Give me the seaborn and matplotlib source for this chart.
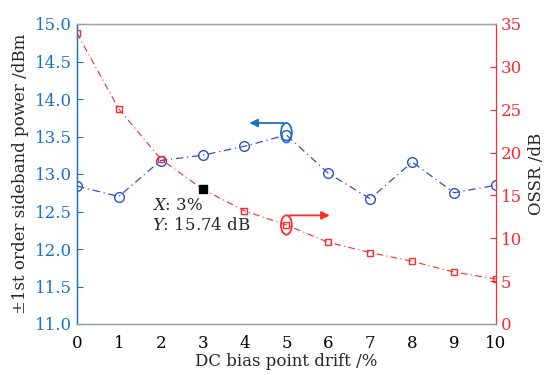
import matplotlib
matplotlib.use("Agg")
import matplotlib.pyplot as plt
from matplotlib.patches import Ellipse
import seaborn as sns
import pandas as pd

drift = [0, 1, 2, 3, 4, 5, 6, 7, 8, 9, 10]
sideband_power = [12.84, 12.70, 13.18, 13.25, 13.37, 13.52, 13.01, 12.67, 13.16, 12.75, 12.85]
ossr = [33.95, 25.1, 19.25, 15.74, 13.2, 11.55, 9.53, 8.33, 7.31, 6.06, 5.25]
tip_x, tip_y = 3, 15.74
x_ticks = list(range(0, 11))
left_ticks = [11.0, 11.5, 12.0, 12.5, 13.0, 13.5, 14.0, 14.5, 15.0]
right_ticks = [0, 5, 10, 15, 20, 25, 30, 35]

sns.set_style("white")
plt.rcParams['font.family'] = ['DejaVu Serif']
plt.rcParams['mathtext.fontset'] = 'dejavuserif'

BLUE_T = "#1a72c6"
BLUE_L = "#3050c8"
RED = "#ff2a2a"
GRAY = "#9aa0a8"

df = pd.DataFrame({"drift": drift, "power": sideband_power, "ossr": ossr})

fig, ax = plt.subplots(figsize=(5.45, 3.75), dpi=100)
fig.subplots_adjust(left=0.141, right=0.910, top=0.936, bottom=0.136)
ax2 = ax.twinx()

sns.lineplot(data=df, x="drift", y="power", ax=ax, color=BLUE_L, lw=0.9,
             linestyle=(0, (6, 3, 1, 3)), marker="o", markersize=7,
             markerfacecolor="none", markeredgecolor=BLUE_L, markeredgewidth=1.0)
sns.lineplot(data=df, x="drift", y="ossr", ax=ax2, color=RED, lw=0.8,
             linestyle=(0, (6, 3, 1, 3)), marker="s", markersize=5,
             markerfacecolor="none", markeredgecolor=RED, markeredgewidth=1.0)
ax2.plot([tip_x], [tip_y], marker="s", color="black", markersize=6, ls="none", zorder=5)

ax.set_xlim(0, 10)
ax.set_ylim(11, 15)
ax2.set_ylim(0, 35)
ax.set_xticks(x_ticks)
ax.set_yticks(left_ticks)
ax.set_yticklabels([f"{v:.1f}" for v in left_ticks])
ax2.set_yticks(right_ticks)

fs = 12
ax.tick_params(axis="x", direction="in", length=4, labelsize=fs, colors="black", color=GRAY, pad=8)
ax.tick_params(axis="y", direction="in", length=4, labelsize=fs, labelcolor=BLUE_T, color=BLUE_T)
ax2.tick_params(axis="y", direction="in", length=4, labelsize=fs, labelcolor=RED, color=RED)

for a in (ax, ax2):
    for s in a.spines.values():
        s.set_visible(True)
        s.set_linewidth(0.9)
        s.set_color(GRAY)
ax2.spines["left"].set_color(BLUE_T)
ax2.spines["right"].set_color(RED)
ax.spines["left"].set_color(BLUE_T)
ax.spines["right"].set_visible(False)

ax.set_xlabel("DC bias point drift /%", fontsize=fs, labelpad=1)
ax.set_ylabel("±1st order sideband power /dBm", fontsize=fs, labelpad=4)
ax2.set_ylabel("OSSR /dB", fontsize=fs, labelpad=4)

# annotations
bx, by = drift[5], sideband_power[5]
ax.add_patch(Ellipse((bx, by + 0.03), 0.26, 0.26, fill=False, ec=BLUE_T, lw=1.3, zorder=6))
ax.annotate("", xy=(4.05, by + 0.16), xytext=(bx, by + 0.16),
            arrowprops=dict(arrowstyle="-|>", color=BLUE_T, lw=1.3, mutation_scale=12))
rx, ry = drift[5], ossr[5]
ax2.add_patch(Ellipse((rx, ry), 0.26, 2.25, fill=False, ec=RED, lw=1.3, zorder=6))
ax2.annotate("", xy=(6.1, ry + 1.12), xytext=(rx, ry + 1.12),
             arrowprops=dict(arrowstyle="-|>", color=RED, lw=1.3, mutation_scale=12))

ax2.text(1.8, 13.85, r"$X$: 3%", fontsize=fs, va="center", ha="left")
ax2.text(1.8, 11.55, r"$Y$: 15.74 dB", fontsize=fs, va="center", ha="left")

fig.savefig("out.png", dpi=100)
